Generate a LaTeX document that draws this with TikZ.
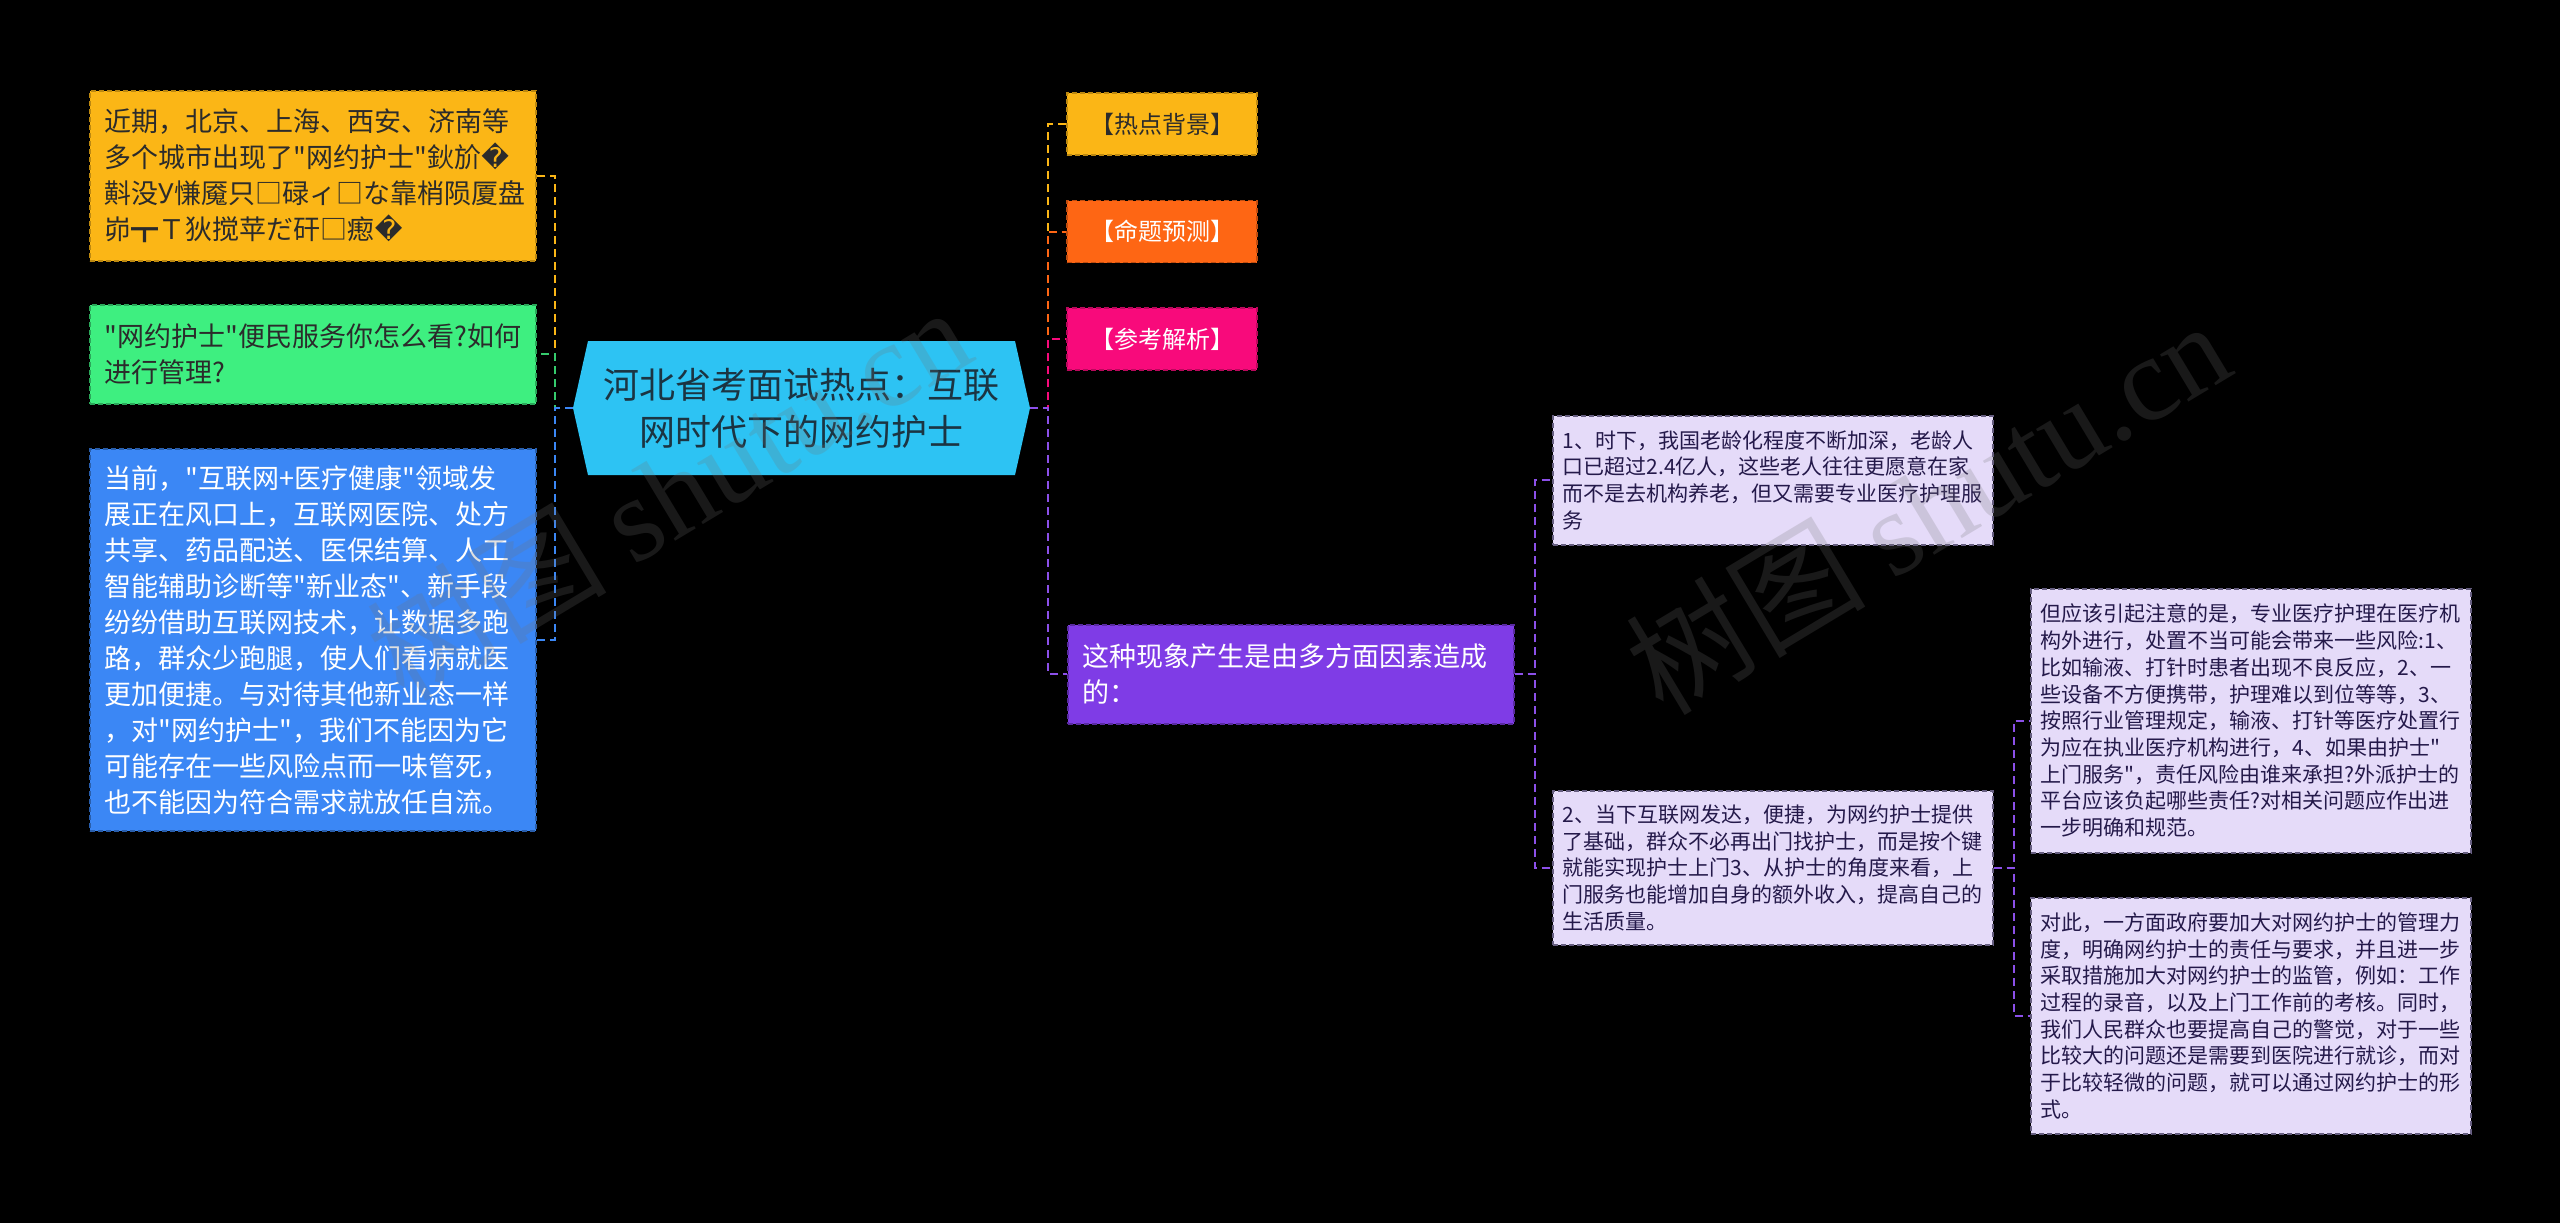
\documentclass[tikz,border=0pt]{standalone}
\usepackage{fontspec}
\setmainfont[Ligatures=TeXOff]{Noto Sans CJK SC}
\newfontfamily\repfont{DejaVu Sans}
\newfontfamily\wmserif{Liberation Serif}
\usetikzlibrary{positioning}
\definecolor{ylw}{HTML}{FBB616}
\definecolor{grn}{HTML}{3EEF80}
\definecolor{blu}{HTML}{3B87F5}
\definecolor{hubc}{HTML}{2DC3F3}
\definecolor{org}{HTML}{FE6614}
\definecolor{pnk}{HTML}{F80A7B}
\definecolor{ppl}{HTML}{7F3CE6}
\definecolor{lav}{HTML}{E5DBF9}
\definecolor{ink}{HTML}{2B2B2B}
\definecolor{lavink}{HTML}{24194A}
\definecolor{hubink}{HTML}{1B3442}
\newcommand{\rep}{{\repfont\char"FFFD}}

\begin{document}
\begin{tikzpicture}[x=1pt,y=-1pt,
  box/.style={draw, dash pattern=on 5pt off 3pt, line width=1.5pt, inner ysep=0pt},
  lbox/.style={box, anchor=north west, align=left, inner xsep=15pt, text width=416pt, minimum width=446pt, font=\fontsize{27}{36}\selectfont},
  tbox/.style={box, anchor=center, align=center, minimum width=190pt, minimum height=62pt, font=\fontsize{24}{28}\selectfont},
  sbox/.style={box, anchor=north west, align=left, inner xsep=10pt, text width=420pt, fill=lav, draw=lavink!70, text=lavink, font=\fontsize{21}{26.7}\selectfont},
  lnk/.style={dash pattern=on 8pt off 5pt, line width=2pt},
  wm/.style={text=white!45!black, text opacity=.22, font=\fontsize{120}{120}\selectfont}]
\useasboundingbox (0,0) rectangle (2560,1223);
\fill[black] (0,0) rectangle (2560,1223);
\coordinate (hl) at (573,408);
\coordinate (hr) at (1030,408);
\fill[hubc] (hl) -- (588,341) -- (1015,341) -- (hr) -- (1015,475) -- (588,475) -- cycle;
\node[text=hubink, align=center, font=\fontsize{36}{47}\selectfont] (hub) at (801.5,408) {河北省考面试热点：互联\\网时代下的网约护士};

\node[lbox, fill=ylw, draw=ylw!75!black, text=ink, minimum height=170pt] (bg) at (89,90) {近期，北京、上海、西安、济南等\\多个城市出现了"网约护士"鈥斺\rep\\斢没У慊魇只□碌ィ□な靠梢陨厦盘\\峁┳Ｔ狄搅苹だ矸□瘛\rep};
\node[lbox, fill=grn, draw=grn!70!black, text=ink, minimum height=99pt] (ask) at (89,304) {"网约护士"便民服务你怎么看?如何\\进行管理?};
\node[lbox, fill=blu, draw=blu!70!black, text=white, minimum height=382pt] (now) at (89,448) {当前，"互联网+医疗健康"领域发\\展正在风口上，互联网医院、处方\\共享、药品配送、医保结算、人工\\智能辅助诊断等"新业态"、新手段\\纷纷借助互联网技术，让数据多跑\\路，群众少跑腿，使人们看病就医\\更加便捷。与对待其他新业态一样\\，对"网约护士"，我们不能因为它\\可能存在一些风险点而一味管死，\\也不能因为符合需求就放任自流。};

\node[tbox, fill=ylw, draw=ylw!75!black, text=ink] (hot) at (1162,124) {【热点背景】};
\node[tbox, fill=org, draw=org!75!black, text=white] (pred) at (1162,231.5) {【命题预测】};
\node[tbox, fill=pnk, draw=pnk!75!black, text=white] (ans) at (1162,339) {【参考解析】};
\node[lbox, fill=ppl, draw=ppl!70!black, text=white, minimum height=99pt] (why) at (1067,624) {这种现象产生是由多方面因素造成\\的：};

\node[sbox, minimum height=129pt] (why1) at (1552,415) {1、时下，我国老龄化程度不断加深，老龄人\\口已超过2.4亿人，这些老人往往更愿意在家\\而不是去机构养老，但又需要专业医疗护理服\\务};
\node[sbox, minimum height=154pt] (why2) at (1552,790) {2、当下互联网发达，便捷，为网约护士提供\\了基础，群众不必再出门找护士，而是按个键\\就能实现护士上门3、从护士的角度来看，上\\门服务也能增加自身的额外收入，提高自己的\\生活质量。};
\node[sbox, minimum height=264pt] (risk) at (2030,588) {但应该引起注意的是，专业医疗护理在医疗机\\构外进行，处置不当可能会带来一些风险:1、\\比如输液、打针时患者出现不良反应，2、一\\些设备不方便携带，护理难以到位等等，3、\\按照行业管理规定，输液、打针等医疗处置行\\为应在执业医疗机构进行，4、如果由护士"\\上门服务"，责任风险由谁来承担?外派护士的\\平台应该负起哪些责任?对相关问题应作出进\\一步明确和规范。};
\node[sbox, minimum height=236pt] (fix) at (2030,897) {对此，一方面政府要加大对网约护士的管理力\\度，明确网约护士的责任与要求，并且进一步\\采取措施加大对网约护士的监管，例如：工作\\过程的录音，以及上门工作前的考核。同时，\\我们人民群众也要提高自己的警觉，对于一些\\比较大的问题还是需要到医院进行就诊，而对\\于比较轻微的问题，就可以通过网约护士的形\\式。};

\draw[lnk, ylw] (hl) -- ++(-18,0) |- (bg.east);
\draw[lnk, grn!85!black] (hl) -- ++(-18,0) |- (ask.east);
\draw[lnk, blu] (hl) -- ++(-18,0) |- (now.east);
\draw[lnk, ylw] (hr) -- ++(18,0) |- (hot.west);
\draw[lnk, org] (hr) -- ++(18,0) |- (pred.west);
\draw[lnk, pnk] (hr) -- ++(18,0) |- (ans.west);
\draw[lnk, ppl!90!white] (hr) -- ++(18,0) |- (why.west);
\draw[lnk, ppl!90!white] (why.east) -- ++(20,0) |- (why1.west);
\draw[lnk, ppl!90!white] (why.east) -- ++(20,0) |- (why2.west);
\draw[lnk, ppl!90!white] (why2.east) -- ++(20,0) |- (risk.west);
\draw[lnk, ppl!90!white] (why2.east) -- ++(20,0) |- (fix.west);

\node[wm, rotate=31] (wm1) at (668,492) {树图 {\wmserif shutu.cn}};
\node[wm, rotate=31] (wm2) at (1927,506) {树图 {\wmserif shutu.cn}};
\end{tikzpicture}
\end{document}
